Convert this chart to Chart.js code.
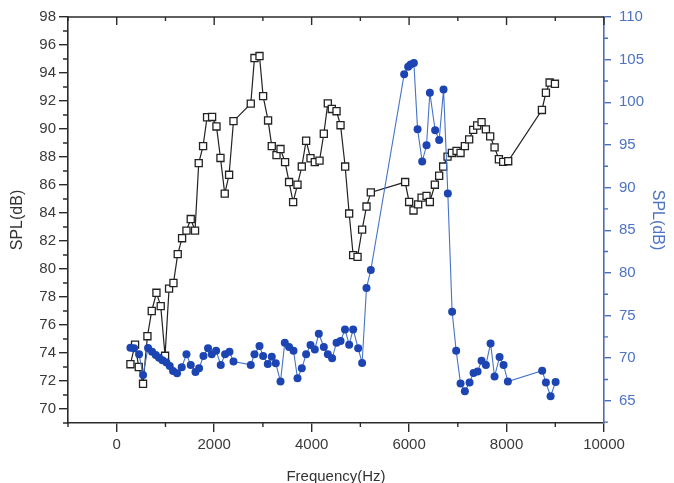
<!DOCTYPE html>
<html>
<head>
<meta charset="utf-8">
<script src="https://cdn.jsdelivr.net/npm/chart.js@4/dist/chart.umd.min.js"></script>
<style>
html, body { margin: 0; padding: 0; background: #fff; }
#wrap { width: 674px; height: 483px; }
</style>
</head>
<body>
<div id="wrap"><canvas id="c" width="674" height="483"></canvas></div>
<script>
/* black open squares (left axis) */
const freqBlack = [281, 376, 452, 540, 630, 719, 815, 903, 992, 1074, 1164, 1252, 1341, 1431, 1519, 1607, 1683, 1772, 1854, 1957, 2047, 2129, 2217, 2306, 2396, 2751, 2827, 2930, 3004, 3106, 3182, 3279, 3361, 3455, 3537, 3620, 3710, 3798, 3887, 3977, 4065, 4162, 4250, 4332, 4414, 4511, 4593, 4688, 4770, 4852, 4942, 5036, 5126, 5215, 5919, 6001, 6091, 6186, 6256, 6358, 6426, 6529, 6617, 6699, 6789, 6878, 6974, 7056, 7145, 7233, 7315, 7397, 7487, 7576, 7664, 7754, 7843, 7931, 8034, 8726, 8808, 8884, 8993];
const splBlack = [73.2, 74.6, 73.0, 71.8, 75.2, 77.0, 78.3, 77.35, 73.8, 78.6, 79.0, 81.06, 82.2, 82.74, 83.57, 82.74, 87.56, 88.78, 90.84, 90.86, 90.18, 87.93, 85.38, 86.73, 90.56, 91.81, 95.07, 95.21, 92.35, 90.61, 88.78, 88.13, 88.57, 87.63, 86.21, 84.78, 86.02, 87.32, 89.16, 87.91, 87.63, 87.74, 89.66, 91.83, 91.43, 91.27, 90.27, 87.32, 83.96, 80.99, 80.87, 82.81, 84.46, 85.47, 86.21, 84.79, 84.18, 84.62, 85.1, 85.22, 84.79, 86.02, 86.66, 87.32, 88.03, 88.29, 88.43, 88.29, 88.78, 89.26, 89.94, 90.25, 90.49, 89.97, 89.47, 88.69, 87.84, 87.65, 87.7, 91.36, 92.59, 93.32, 93.23];

/* blue filled circles (right axis) */
const freqBlue = [281, 355, 458, 540, 643, 725, 801, 868, 938, 1020, 1088, 1156, 1238, 1334, 1431, 1519, 1616, 1690, 1780, 1874, 1950, 2039, 2135, 2224, 2314, 2396, 2751, 2827, 2930, 3004, 3100, 3182, 3264, 3361, 3449, 3537, 3628, 3710, 3798, 3887, 3977, 4065, 4147, 4250, 4332, 4420, 4511, 4593, 4685, 4770, 4852, 4955, 5036, 5126, 5215, 5899, 5981, 6030, 6098, 6174, 6269, 6358, 6426, 6535, 6617, 6707, 6795, 6883, 6966, 7056, 7145, 7241, 7323, 7405, 7487, 7576, 7672, 7754, 7857, 7939, 8027, 8731, 8808, 8904, 9007];
const splBlue = [71.23, 71.15, 70.45, 68.04, 71.2, 70.76, 70.38, 70.06, 69.75, 69.48, 69.09, 68.51, 68.23, 68.93, 70.45, 69.21, 68.39, 68.81, 70.26, 71.15, 70.45, 70.88, 69.21, 70.45, 70.76, 69.6, 69.21, 70.45, 71.43, 70.26, 69.33, 70.18, 69.4, 67.26, 71.82, 71.31, 70.88, 67.64, 68.81, 70.45, 71.55, 71.03, 72.87, 71.31, 70.45, 69.98, 71.82, 72.02, 73.37, 71.58, 73.37, 71.15, 69.44, 78.24, 80.35, 103.29, 104.16, 104.42, 104.62, 96.83, 93.05, 94.96, 101.12, 96.71, 95.58, 101.5, 89.31, 75.44, 70.88, 67.02, 66.12, 67.14, 68.27, 68.43, 69.71, 69.21, 71.73, 67.84, 70.14, 69.21, 67.26, 68.54, 67.14, 65.54, 67.22];

/* tick labels */
const xTicks = [0, 2000, 4000, 6000, 8000, 10000];
const xMinor = [-1000, 1000, 3000, 5000, 7000, 9000];
const yTicks = [70, 72, 74, 76, 78, 80, 82, 84, 86, 88, 90, 92, 94, 96, 98];
const yMinor = [69, 71, 73, 75, 77, 79, 81, 83, 85, 87, 89, 91, 93, 95, 97];
const y2Ticks = [65, 70, 75, 80, 85, 90, 95, 100, 105, 110];
const y2Minor = [62.5, 67.5, 72.5, 77.5, 82.5, 87.5, 92.5, 97.5, 102.5, 107.5];

const font = "'Liberation Sans', Arial, sans-serif";
const axisBlack = "#2b2b2b";
const axisBlue = "#4a6fb8";

function pts(xs, ys){
  return xs.map((v, i) => ({x: v, y: ys[i]}));
}

function setTicks(list){
  return function(scale){
    scale.ticks = list.map(v => ({value: v}));
  };
}

/* minor ticks and the top frame line */
const frame = {
  id: "frame",
  afterDraw(chart){
    const {ctx, chartArea: a, scales} = chart;
    const x = scales.x, y = scales.y, y2 = scales.y2;
    ctx.save();
    ctx.lineWidth = 1.4;
    ctx.strokeStyle = axisBlack;
    ctx.beginPath();
    ctx.moveTo(a.left, a.top);
    ctx.lineTo(a.right, a.top);
    // bottom minor
    xMinor.forEach(v => {
      const px = x.getPixelForValue(v);
      ctx.moveTo(px, a.bottom);
      ctx.lineTo(px, a.bottom + 4);
    });
    // top inward ticks
    xTicks.forEach(v => {
      const px = x.getPixelForValue(v);
      ctx.moveTo(px, a.top);
      ctx.lineTo(px, a.top + 8);
    });
    xMinor.forEach(v => {
      const px = x.getPixelForValue(v);
      ctx.moveTo(px, a.top);
      ctx.lineTo(px, a.top + 4);
    });
    // left minor
    yMinor.forEach(v => {
      const py = y.getPixelForValue(v);
      ctx.moveTo(a.left, py);
      ctx.lineTo(a.left - 5, py);
    });
    ctx.stroke();
    // right minor
    ctx.strokeStyle = axisBlue;
    ctx.beginPath();
    y2Minor.forEach(v => {
      const py = y2.getPixelForValue(v);
      ctx.moveTo(a.right, py);
      ctx.lineTo(a.right + 4, py);
    });
    ctx.stroke();
    ctx.restore();
  }
};

new Chart(document.getElementById("c"), {
  type: "scatter",
  data: {
    datasets: [{
      label: "blue",
      data: pts(freqBlue, splBlue),
      yAxisID: "y2",
      showLine: true,
      borderColor: "#4673c8",
      borderWidth: 1.1,
      backgroundColor: "#1c45b3",
      pointBackgroundColor: "#1c45b3",
      pointBorderColor: "#1c45b3",
      pointBorderWidth: 0,
      pointRadius: 4,
      pointStyle: "circle"
    }, {
      label: "black",
      data: pts(freqBlack, splBlack),
      yAxisID: "y",
      showLine: true,
      borderColor: "#222",
      borderWidth: 1.2,
      pointBackgroundColor: "#fff",
      pointBorderColor: "#222",
      pointBorderWidth: 1.3,
      pointRadius: 5,
      pointStyle: "rect"
    }]
  },
  options: {
    responsive: false,
    animation: false,
    layout: { padding: { top: 13, left: 0, right: 0, bottom: 0 } },
    plugins: { legend: { display: false }, tooltip: { enabled: false } },
    scales: {
      x: {
        type: "linear",
        position: "bottom",
        min: -1000,
        max: 10000,
        afterBuildTicks: setTicks(xTicks),
        afterFit: s => { s.height = 60; },
        grid: { drawOnChartArea: false, tickLength: 9, color: axisBlack, lineWidth: 1.4 },
        border: { color: axisBlack, width: 1.6 },
        ticks: { color: "#3a3a3a", padding: 4, font: { family: font, size: 15 }, maxRotation: 0, callback: v => String(v) },
        title: { display: true, text: "Frequency(Hz)", color: "#333", padding: { top: 0, bottom: -3 }, font: { family: font, size: 15 } }
      },
      y: {
        type: "linear",
        position: "left",
        min: 69,
        max: 98,
        afterBuildTicks: setTicks(yTicks),
        afterFit: s => { s.width = 68; },
        grid: { drawOnChartArea: false, tickLength: 9, color: axisBlack, lineWidth: 1.4 },
        border: { color: axisBlack, width: 1.6 },
        ticks: { color: "#3a3a3a", padding: 3, font: { family: font, size: 15 }, callback: v => String(v) },
        title: { display: true, text: "SPL(dB)", color: "#333", padding: { top: 8, bottom: 0 }, font: { family: font, size: 16 } }
      },
      y2: {
        type: "linear",
        position: "right",
        min: 62.4,
        max: 110,
        afterBuildTicks: setTicks(y2Ticks),
        afterFit: s => { s.width = 70; },
        grid: { drawOnChartArea: false, tickLength: 7, color: axisBlue, lineWidth: 1.4 },
        border: { color: axisBlue, width: 1.6 },
        ticks: { color: "#4d73c2", padding: 8, font: { family: font, size: 15 }, callback: v => String(v) },
        title: { display: true, text: "SPL(dB)", color: "#4d73c2", padding: { top: 7, bottom: 0 }, font: { family: font, size: 16 } }
      }
    }
  },
  plugins: [frame]
});
</script>
</body>
</html>
